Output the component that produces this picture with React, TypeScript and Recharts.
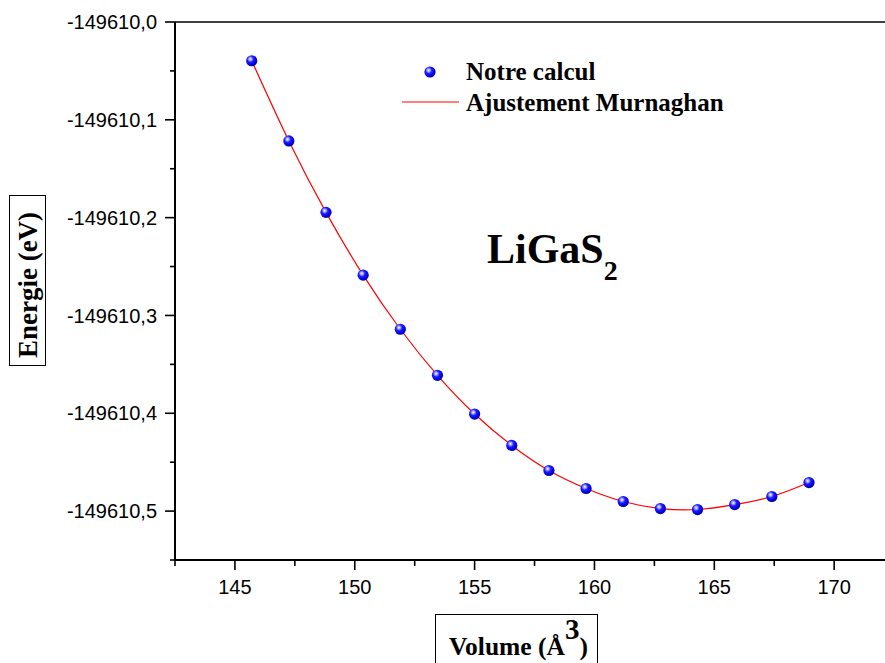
import { ComposedChart, Line, Scatter, XAxis, YAxis, ReferenceLine } from "recharts";

// Volume (Å^3) and total energy (eV)
const volumes = [145.7, 147.25, 148.8, 150.35, 151.9, 153.45, 155.0, 156.55, 158.1, 159.65, 161.2, 162.75, 164.3, 165.85, 167.4, 168.95];
const energies = [
  -149610.0396, -149610.1216, -149610.1946, -149610.2588, -149610.3141, -149610.3612, -149610.4008, -149610.4329,
  -149610.4585, -149610.4769, -149610.4902, -149610.4974, -149610.4984, -149610.4933, -149610.4851, -149610.4708,
];

const xMajor = [145, 150, 155, 160, 165, 170];
const xMinor = [142.5, 147.5, 152.5, 157.5, 162.5, 167.5, 172.5];
const yMajor = [-149610.0, -149610.1, -149610.2, -149610.3, -149610.4, -149610.5];
const yMinor = [-149610.05, -149610.15, -149610.25, -149610.35, -149610.45, -149610.55];

const data = volumes.map((v, i) => ({ volume: v, energy: energies[i] }));

const tickFont = "'Liberation Sans', Arial, sans-serif";
const titleFont = "'Liberation Serif', 'Times New Roman', serif";

function XTick(props: any) {
  const { x, y, payload } = props;
  const major = xMajor.includes(payload.value);
  return (
    <g>
      <line x1={x} x2={x} y1={y} y2={y + (major ? 10 : 6)} stroke="#000" strokeWidth={1.6} />
      {major && (
        <text x={x} y={y + 20} dy="0.71em" textAnchor="middle" fontFamily={tickFont} fontSize={20} fill="#000">
          {payload.value}
        </text>
      )}
    </g>
  );
}

function YTick(props: any) {
  const { x, y, payload } = props;
  const major = yMajor.includes(payload.value);
  return (
    <g>
      <line x1={x} x2={x - (major ? 10 : 5)} y1={y} y2={y} stroke="#000" strokeWidth={1.6} />
      {major && (
        <text x={x - 18} y={y} dy="0.355em" textAnchor="end" fontFamily={tickFont} fontSize={20} fill="#000">
          {payload.value.toFixed(1).replace(".", ",")}
        </text>
      )}
    </g>
  );
}

function Sphere(props: any) {
  const { cx, cy } = props;
  return <circle cx={cx} cy={cy} r={5.6} fill="url(#ball)" />;
}

export default function App() {
  return (
    <div style={{ position: "absolute", left: 0, top: 0, width: 885, height: 663, overflow: "hidden", background: "#fff" }}>
      <ComposedChart width={954} height={663} data={data} margin={{ top: 22, right: 0, bottom: 0, left: 0 }}>
        <defs>
          <radialGradient id="ball" cx="38%" cy="35%" r="65%">
            <stop offset="0%" stopColor="#ffffff" />
            <stop offset="22%" stopColor="#9a9aff" />
            <stop offset="45%" stopColor="#1a1aff" />
            <stop offset="85%" stopColor="#0000dd" />
            <stop offset="100%" stopColor="#00008a" />
          </radialGradient>
        </defs>
        <XAxis
          dataKey="volume"
          type="number"
          domain={[142.5, 175]}
          ticks={[...xMinor, ...xMajor].sort((a, b) => a - b)}
          interval={0}
          height={103}
          tickSize={0}
          tickMargin={0}
          tickLine={false}
          tick={<XTick />}
          axisLine={{ stroke: "#000", strokeWidth: 2 }}
          allowDataOverflow
        />
        <YAxis
          type="number"
          domain={[-149610.55, -149610.0]}
          ticks={[...yMinor, ...yMajor].sort((a, b) => a - b)}
          interval={0}
          width={175}
          tickSize={0}
          tickMargin={0}
          tickLine={false}
          tick={<YTick />}
          axisLine={{ stroke: "#000", strokeWidth: 2 }}
          allowDataOverflow
        />
        <ReferenceLine y={-149610.0} stroke="#000" strokeWidth={1.5} />
        <Scatter dataKey="energy" shape={<Sphere />} isAnimationActive={false} />
        <Line type="natural" dataKey="energy" stroke="#ff0000" strokeWidth={1.2} dot={false} activeDot={false} isAnimationActive={false} />
      </ComposedChart>
      <svg width={885} height={663} style={{ position: "absolute", left: 0, top: 0, pointerEvents: "none" }}>
        <circle cx={430} cy={72} r={5.6} fill="url(#ball)" />
        <text x={466} y={80} fontFamily={titleFont} fontWeight="bold" fontSize={25} fill="#000">
          Notre calcul
        </text>
        <line x1={402} x2={459} y1={102} y2={102} stroke="#ff0000" strokeWidth={1.2} />
        <text x={466} y={111} fontFamily={titleFont} fontWeight="bold" fontSize={25} fill="#000">
          Ajustement Murnaghan
        </text>
        <text x={487} y={263} fontFamily={titleFont} fontWeight="bold" fontSize={42} fill="#000">
          LiGaS
          <tspan fontSize={28} dy={17}>2</tspan>
        </text>
        <rect x={9.5} y={195.5} width={36} height={170} fill="none" stroke="#000" strokeWidth={1} />
        <text
          x={28}
          y={285}
          transform="rotate(-90 28 285)"
          textAnchor="middle"
          dominantBaseline="central"
          fontFamily={titleFont}
          fontWeight="bold"
          fontSize={27}
          fill="#000"
        >
          Energie (eV)
        </text>
        <rect x={435.5} y={614.5} width={162} height={60} fill="none" stroke="#000" strokeWidth={1} />
        <text x={449} y={655} fontFamily={titleFont} fontWeight="bold" fontSize={25.5} fill="#000">
          Volume (Å
          <tspan fontSize={29} dy={-16}>3</tspan>
          <tspan dy={16}>)</tspan>
        </text>
      </svg>
    </div>
  );
}
